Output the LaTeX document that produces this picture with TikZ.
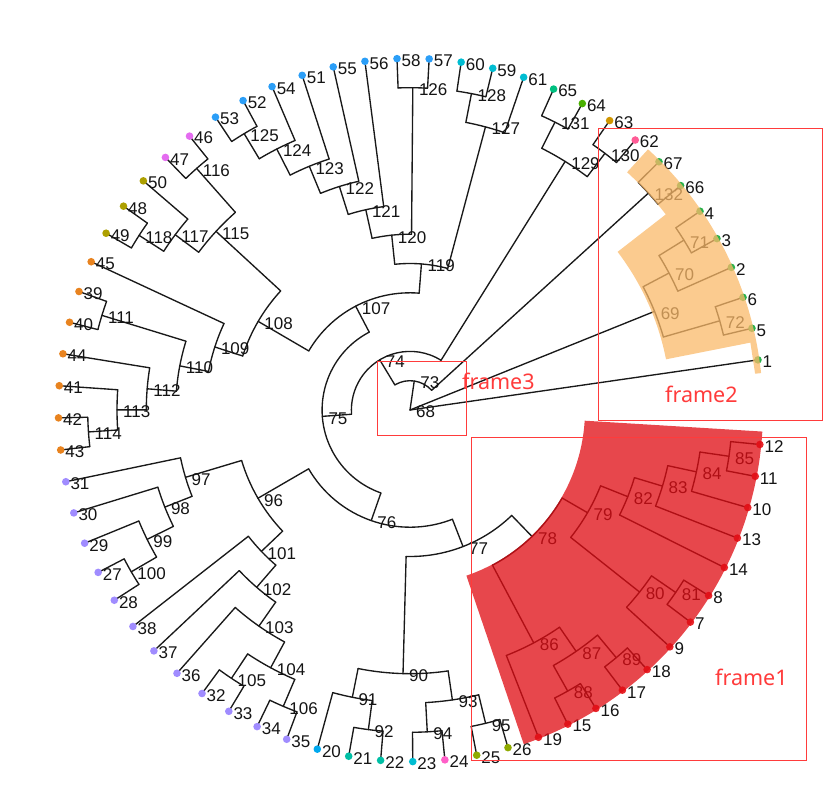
\documentclass[tikz,border=0pt]{standalone}
\usepackage{fontspec}
\setmainfont{Liberation Sans}
\newfontfamily\framefont{Noto Sans}
\definecolor{cG}{HTML}{2BB24C}
\definecolor{cPk}{HTML}{FF5C96}
\definecolor{cOc}{HTML}{D09600}
\definecolor{cGr}{HTML}{49B000}
\definecolor{cTq}{HTML}{00C080}
\definecolor{cCy}{HTML}{00BDD2}
\definecolor{cBl}{HTML}{2B9EF7}
\definecolor{cMg}{HTML}{E46CF0}
\definecolor{cOl}{HTML}{ADA000}
\definecolor{cOr}{HTML}{E8831F}
\definecolor{cLv}{HTML}{A08CFF}
\definecolor{cSk}{HTML}{00A8EE}
\definecolor{cTl}{HTML}{00BFA5}
\definecolor{cPn}{HTML}{FF5FC8}
\definecolor{cYg}{HTML}{8FAA00}
\definecolor{cRd}{HTML}{E8262B}
\definecolor{ovR}{RGB}{224,13,20}
\definecolor{ovO}{RGB}{250,185,105}
\definecolor{frm}{HTML}{FF3B3B}
\def\az{8.2}\def\st{5.245}\def\lv{29.3}
\newcommand\gi[1]{\csname I-#1\endcsname}
\newcommand\gl[1]{\csname L-#1\endcsname}
\newcommand\lf[3]{%
  \expandafter\xdef\csname I-#1\endcsname{#2}%
  \expandafter\xdef\csname L-#1\endcsname{12}%
  \coordinate (n#1) at ({\az+\st*#2}:{\lv*12});
  \fill[#3] (n#1) circle[radius=3.8];
  \node[llab] (t#1) at (n#1) {#1};}
\newcommand\inn[3]{%
  \expandafter\xdef\csname I-#1\endcsname{#2}%
  \expandafter\xdef\csname L-#1\endcsname{#3}%
  \coordinate (n#1) at ({\az+\st*#2}:{\lv*#3});
  \node[ilab] (t#1) at (n#1) {#1};}
\newcommand\br[2]{\draw[tree] ({\az+\st*\gi{#2}}:{\lv*\gl{#1}}) -- (n#2);}
\newcommand\ar[3]{\draw[tree] ({\az+\st*\gi{#2}}:{\lv*\gl{#1}}) arc[start angle={\az+\st*\gi{#2}}, end angle={\az+\st*\gi{#3}}, radius={\lv*\gl{#1}}];}
\newcommand\cl[3]{\ar{#1}{#2}{#3}\br{#1}{#2}\br{#1}{#3}}
\pgfdeclarelayer{bg}
\pgfdeclarelayer{ov}
\pgfdeclarelayer{top}
\pgfsetlayers{bg,main,ov,top}
\begin{document}
\begin{tikzpicture}[x=1pt,y=1pt,
  tree/.style={draw=black!90, line width=1.35, line cap=round},
  llab/.style={anchor=west, inner sep=0pt, xshift=4.5pt, yshift=-2pt, font=\fontsize{17}{17}\selectfont, text=black!92},
  ilab/.style={anchor=west, inner sep=0pt, xshift=6pt, yshift=-2pt, font=\fontsize{17}{17}\selectfont, text=black!92},
  framebox/.style={draw=frm, line width=0.9},
  framelab/.style={anchor=west, inner sep=0pt, text=frm, font=\framefont\fontsize{21.5}{21.5}\selectfont}]
\useasboundingbox (-410,-388) rectangle (422,410);
% leaves
\lf{1}{0}{cG}\lf{5}{1}{cG}\lf{6}{2}{cG}\lf{2}{3}{cG}\lf{3}{4}{cG}\lf{4}{5}{cG}
\lf{66}{6}{cG}\lf{67}{7}{cG}
\lf{62}{8}{cPk}\lf{63}{9}{cOc}\lf{64}{10}{cGr}\lf{65}{11}{cTq}
\lf{61}{12}{cCy}\lf{59}{13}{cCy}\lf{60}{14}{cCy}
\lf{57}{15}{cBl}\lf{58}{16}{cBl}\lf{56}{17}{cBl}\lf{55}{18}{cBl}\lf{51}{19}{cBl}
\lf{54}{20}{cBl}\lf{52}{21}{cBl}\lf{53}{22}{cBl}
\lf{46}{23}{cMg}\lf{47}{24}{cMg}
\lf{50}{25}{cOl}\lf{48}{26}{cOl}\lf{49}{27}{cOl}
\lf{45}{28}{cOr}\lf{39}{29}{cOr}\lf{40}{30}{cOr}\lf{44}{31}{cOr}\lf{41}{32}{cOr}
\lf{42}{33}{cOr}\lf{43}{34}{cOr}
\lf{31}{35}{cLv}\lf{30}{36}{cLv}\lf{29}{37}{cLv}\lf{27}{38}{cLv}\lf{28}{39}{cLv}
\lf{38}{40}{cLv}\lf{37}{41}{cLv}\lf{36}{42}{cLv}\lf{32}{43}{cLv}\lf{33}{44}{cLv}
\lf{34}{45}{cLv}\lf{35}{46}{cLv}
\lf{20}{47}{cSk}\lf{21}{48}{cTl}\lf{22}{49}{cTl}\lf{23}{50}{cCy}\lf{24}{51}{cPn}
\lf{25}{52}{cYg}\lf{26}{53}{cYg}
\lf{19}{54}{cRd}\lf{15}{55}{cRd}\lf{16}{56}{cRd}\lf{17}{57}{cRd}\lf{18}{58}{cRd}
\lf{9}{59}{cRd}\lf{7}{60}{cRd}\lf{8}{61}{cRd}\lf{14}{62}{cRd}\lf{13}{63}{cRd}
\lf{10}{64}{cRd}\lf{11}{65}{cRd}\lf{12}{66}{cRd}
% internal nodes
\inn{68}{0}{0}\inn{73}{14.01171875}{1}\inn{74}{21.5234375}{2}\inn{75}{33.546875}{3}
\inn{107}{20.86328125}{4}\inn{76}{46.23046875}{4}
\inn{119}{14.7421875}{5}\inn{77}{53.9609375}{5}
\inn{108}{26.984375}{6}\inn{120}{16.734375}{6}\inn{96}{38.5}{6}\inn{78}{58.296875}{6}
\inn{109}{29.34375}{7}\inn{121}{17.96875}{7}\inn{101}{41.0625}{7}\inn{79}{61.34375}{7}
\inn{110}{30.6875}{8}\inn{122}{18.9375}{8}\inn{97}{35.9375}{8}\inn{102}{42.125}{8}\inn{82}{62.9375}{8}
\inn{112}{31.875}{9}\inn{115}{24.625}{9}\inn{123}{19.875}{9}\inn{98}{36.875}{9}\inn{103}{43.25}{9}
\inn{90}{49.625}{9}\inn{86}{55.25}{9}\inn{83}{63.875}{9}\inn{69}{2.625}{9}
\inn{113}{32.75}{10}\inn{117}{25.75}{10}\inn{124}{20.75}{10}\inn{99}{37.75}{10}\inn{104}{44.5}{10}
\inn{91}{47.75}{10}\inn{93}{51.5}{10}\inn{87}{56.5}{10}\inn{80}{59.75}{10}\inn{84}{64.75}{10}
\inn{127}{12.75}{10}\inn{129}{9.5}{10}\inn{70}{3.75}{10}
\inn{111}{29.5}{11}\inn{114}{33.5}{11}\inn{116}{23.5}{11}\inn{118}{26.5}{11}\inn{125}{21.5}{11}
\inn{126}{15.5}{11}\inn{128}{13.5}{11}\inn{130}{8.5}{11}\inn{131}{10.5}{11}\inn{132}{6.5}{11}
\inn{71}{4.5}{11}\inn{72}{1.5}{11}\inn{85}{65.5}{11}\inn{81}{60.5}{11}\inn{88}{55.5}{11}
\inn{89}{57.5}{11}\inn{92}{48.5}{11}\inn{94}{50.5}{11}\inn{95}{52.5}{11}\inn{100}{38.5}{11}
\inn{105}{43.5}{11}\inn{106}{45.5}{11}
% tree connectors
\begin{pgfonlayer}{bg}
\draw[tree] (n68) -- (n73);
\draw[tree] (n68) -- (n69);
\draw[tree] (n68) -- (n1);
\cl{72}{5}{6}\cl{71}{3}{4}\cl{70}{2}{71}\cl{69}{72}{70}\cl{132}{66}{67}
\cl{130}{62}{63}\cl{131}{64}{65}\cl{129}{130}{131}
\cl{128}{59}{60}\cl{127}{61}{128}\cl{126}{57}{58}
\cl{125}{52}{53}\cl{124}{54}{125}\cl{123}{51}{124}\cl{122}{55}{123}\cl{121}{56}{122}
\cl{120}{126}{121}\cl{119}{127}{120}
\cl{116}{46}{47}\cl{118}{48}{49}\cl{117}{50}{118}\cl{115}{116}{117}
\cl{111}{39}{40}\cl{114}{42}{43}\cl{113}{41}{114}\cl{112}{44}{113}\cl{110}{111}{112}
\cl{109}{45}{110}\cl{108}{115}{109}\cl{107}{119}{108}
\cl{100}{27}{28}\cl{99}{29}{100}\cl{98}{30}{99}\cl{97}{31}{98}
\cl{105}{32}{33}\cl{106}{34}{35}\cl{104}{105}{106}\cl{103}{36}{104}\cl{102}{37}{103}
\cl{101}{38}{102}\cl{96}{97}{101}
\cl{92}{21}{22}\cl{91}{20}{92}\cl{94}{23}{24}\cl{95}{25}{26}\cl{93}{94}{95}\cl{90}{91}{93}
\cl{88}{15}{16}\cl{89}{17}{18}\cl{87}{88}{89}\cl{86}{19}{87}
\cl{81}{7}{8}\cl{80}{9}{81}\cl{85}{11}{12}\cl{84}{10}{85}\cl{83}{13}{84}\cl{82}{14}{83}
\cl{79}{80}{82}\cl{78}{86}{79}\cl{77}{90}{78}\cl{76}{96}{77}\cl{75}{107}{76}
\cl{74}{129}{75}\cl{73}{132}{74}
\end{pgfonlayer}
% highlight overlays
\begin{pgfonlayer}{ov}
\fill[ovR, opacity=0.76] (-71.2:175) arc[start angle=-71.2, end angle=-3.5, radius=175]
  -- (-3.5:353) arc[start angle=-3.5, end angle=-71.2, radius=353] -- cycle;
\fill[ovO, opacity=0.75] (47.6:322) -- (47.6:353) arc[start angle=47.6, end angle=6, radius=353]
  -- (6:347) -- (11.2:347) -- (11.2:261) arc[start angle=11.2, end angle=37.3, radius=261]
  -- (37.4:322) arc[start angle=37.4, end angle=47.6, radius=322] -- cycle;
\end{pgfonlayer}
% frames
\begin{pgfonlayer}{top}
\draw[framebox] (61.5,-350) rectangle (396.5,-27.5);
\draw[framebox] (188.3,-10) rectangle (412.7,281.7);
\draw[framebox] (-32.7,-25) rectangle (56.3,49);
\node[framelab] (f1) at (305,-267) {frame1};
\node[framelab] (f2) at (255,16) {frame2};
\node[framelab] (f3) at (52,28.5) {frame3};
\end{pgfonlayer}
\end{tikzpicture}
\end{document}
